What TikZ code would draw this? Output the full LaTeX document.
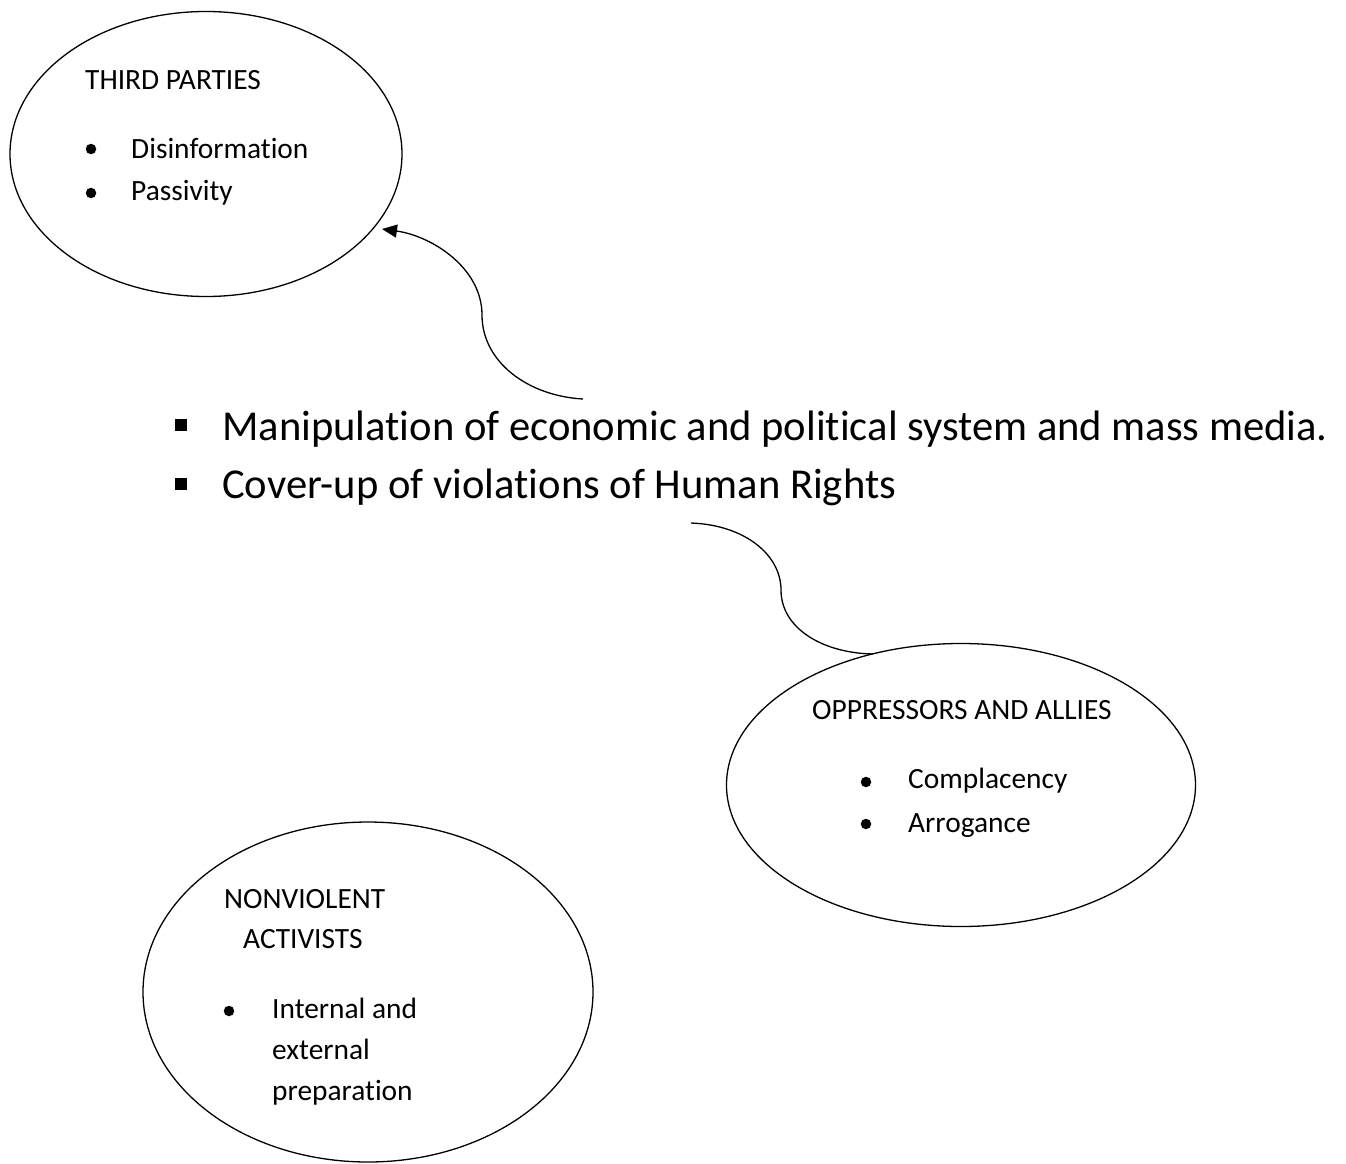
\documentclass[tikz,border=0pt]{standalone}
\usepackage{fontspec}
\setmainfont{Carlito}[Ligatures=NoCommon]
\usetikzlibrary{shapes.geometric,arrows.meta}
\tikzset{
  bubble/.style={draw, ellipse, line width=1.3pt, inner sep=0pt},
  small/.style={anchor=base west, inner sep=0pt, font=\fontsize{29.4}{35}\selectfont},
  big/.style={anchor=base west, inner sep=0pt, font=\fontsize{42.6}{51}\selectfont},
  link/.style={line width=1.3pt},
  dot/.style={circle, fill, inner sep=0pt, minimum size=10.5pt},
  sq/.style={rectangle, fill, inner sep=0pt, minimum size=12pt}
}
\begin{document}
\begin{tikzpicture}[x=1pt,y=-1pt]
\useasboundingbox (0,0) rectangle (1346,1164);
\fill[white] (0,0) rectangle (1346,1164);
% ellipses
\node[bubble, minimum width=392pt, minimum height=285pt] (tp) at (206,154) {};
\node[bubble, minimum width=469pt, minimum height=283pt] (op) at (961,785) {};
\node[bubble, minimum width=450pt, minimum height=340pt] (nv) at (368,992) {};
% third parties text
\node[small] (tpt) at (85,89) {THIRD PARTIES};
\node[dot] (tpd1) at (91,149) {};
\node[small] (tp1) at (131,158) {Disinformation};
\node[dot] (tpd2) at (91,193) {};
\node[small] (tp2) at (131,200) {Passivity};
% oppressors text
\node[small] (opt) at (812,719) {OPPRESSORS AND ALLIES};
\node[dot] (opd1) at (866,782) {};
\node[small] (op1) at (908,788) {Complacency};
\node[dot] (opd2) at (866,824) {};
\node[small] (op2) at (908,832) {Arrogance};
% nonviolent text
\node[small] (nvt1) at (224,908) {NONVIOLENT};
\node[small] (nvt2) at (243,948) {ACTIVISTS};
\node[dot] (nvd) at (229,1011) {};
\node[small] (nv1) at (272,1018) {Internal and};
\node[small] (nv2) at (272,1059) {external};
\node[small] (nv3) at (272,1100) {preparation};
% central text
\node[sq] (s1) at (181,425) {};
\node[big] (m1) at (222,440) {Manipulation of economic and political system and mass media.};
\node[sq] (s2) at (181,484) {};
\node[big] (m2) at (222,498) {Cover-up of violations of Human Rights};
% connectors
\coordinate (a0) at (583,399);
\coordinate (a1) at (382,229);
\draw[link, -{Triangle[length=15pt,width=13pt]}] (a0) .. controls (528,396) and (482,362) .. (482,315)
  .. controls (482,268) and (432,236) .. (a1);
\coordinate (b0) at (691,523);
\coordinate (b1) at (873,654);
\draw[link] (b0) .. controls (745,525) and (781,555) .. (781,590)
  .. controls (781,628) and (822,653) .. (b1);
\end{tikzpicture}
\end{document}
